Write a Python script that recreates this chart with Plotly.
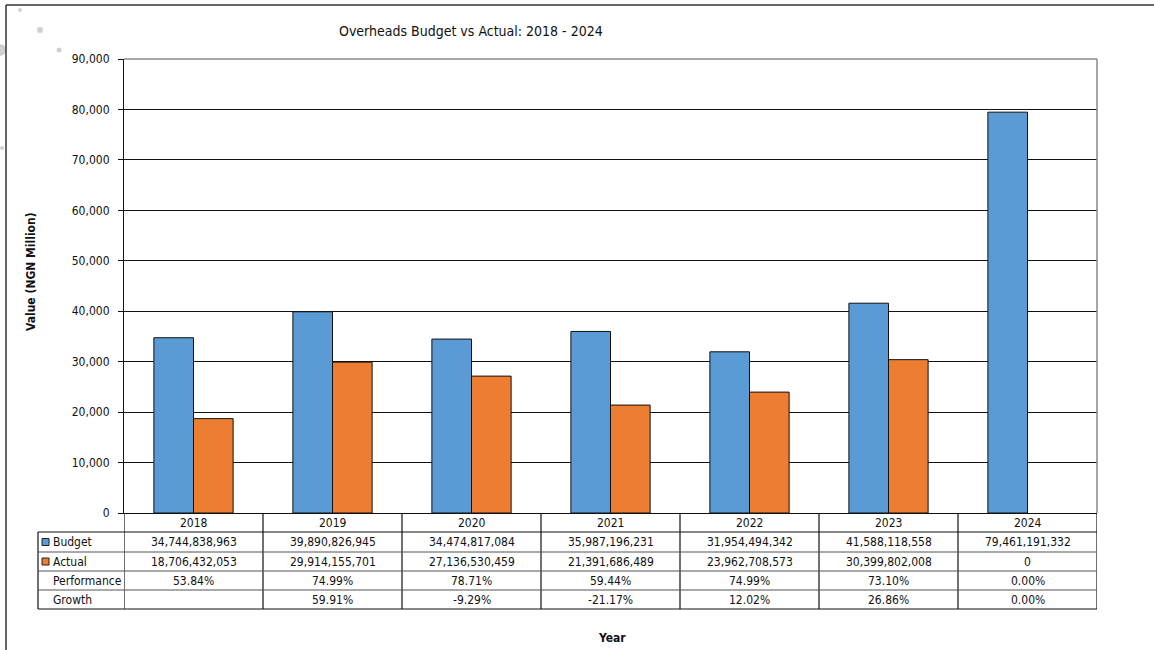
import plotly.graph_objects as go

years = ["2018", "2019", "2020", "2021", "2022", "2023", "2024"]
budget_ngn = [34744838963, 39890826945, 34474817084, 35987196231, 31954494342, 41588118558, 79461191332]
actual_ngn = [18706432053, 29914155701, 27136530459, 21391686489, 23962708573, 30399802008, 0]
performance = ["53.84%", "74.99%", "78.71%", "59.44%", "74.99%", "73.10%", "0.00%"]
growth = ["", "59.91%", "-9.29%", "-21.17%", "12.02%", "26.86%", "0.00%"]
y_ticks = [0, 10000, 20000, 30000, 40000, 50000, 60000, 70000, 80000, 90000]

BLUE = "#5B9BD5"
ORANGE = "#ED7D31"
FONT = "Tahoma, 'DejaVu Sans Condensed', 'Liberation Sans', sans-serif"

W, H = 1154, 650
L, R, T, B = 124, 1097, 59, 513  # plot area in pixels


def px(x):
    return (x - L) / (R - L)


def py(y):
    return (B - y) / (B - T)


budget_m = [v / 1e6 for v in budget_ngn]
actual_m = [v / 1e6 for v in actual_ngn]

fig = go.Figure()
fig.add_trace(go.Bar(x=years, y=budget_m, name="Budget",
                     marker=dict(color=BLUE, line=dict(color="#111", width=[1 if v > 0 else 0 for v in budget_m]))))
fig.add_trace(go.Bar(x=years, y=actual_m, name="Actual",
                     marker=dict(color=ORANGE, line=dict(color="#111", width=[1 if v > 0 else 0 for v in actual_m]))))

shapes = []
ann = []

# outer frame lines (top and left)
shapes.append(dict(type="line", xref="paper", yref="paper", x0=px(6), x1=px(1154), y0=py(5), y1=py(5),
                   line=dict(color="#333", width=1.5), layer="above"))
shapes.append(dict(type="line", xref="paper", yref="paper", x0=px(6), x1=px(6), y0=py(5), y1=py(650),
                   line=dict(color="#333", width=1.5), layer="above"))

# faint decorative dots
for cx, cy, r in [(20, 10, 2), (40, 30, 3), (0, 50, 6), (59, 50, 2.5), (2, 148, 2)]:
    shapes.append(dict(type="circle", xref="paper", yref="paper", x0=px(cx - r), x1=px(cx + r),
                       y0=py(cy - r), y1=py(cy + r), fillcolor="#d0d0d0", line=dict(width=0), layer="below"))

# plot area top/right border
shapes.append(dict(type="line", xref="paper", yref="paper", x0=0, x1=1, y0=1, y1=1,
                   line=dict(color="#888", width=1.5), layer="above"))
shapes.append(dict(type="line", xref="paper", yref="paper", x0=1, x1=1, y0=0, y1=1,
                   line=dict(color="#888", width=1.5), layer="above"))

# table geometry
row_edges = [513, 532, 552, 571, 590, 609]
label_left = 38

n = len(years)
for i in range(n + 1):
    shapes.append(dict(type="line", xref="x", yref="paper", x0=i - 0.5, x1=i - 0.5,
                       y0=py(row_edges[0]), y1=py(row_edges[-1]), line=dict(color="#111", width=1.2)))
shapes.append(dict(type="line", xref="paper", yref="paper", x0=px(label_left), x1=px(label_left),
                   y0=py(row_edges[1]), y1=py(row_edges[-1]), line=dict(color="#111", width=1.2)))
for k, ye in enumerate(row_edges[1:]):
    col = "#111" if k in (0, len(row_edges) - 2) else "#555"
    shapes.append(dict(type="line", xref="paper", yref="paper", x0=px(label_left), x1=1,
                       y0=py(ye), y1=py(ye), line=dict(color=col, width=1.2)))

cell_font = dict(family=FONT, size=12, color="#111")


def row_center(r):
    return py((row_edges[r] + row_edges[r + 1]) / 2)


rows = [
    ("", years),
    ("Budget", [f"{v:,}" for v in budget_ngn]),
    ("Actual", [f"{v:,}" for v in actual_ngn]),
    ("Performance", performance),
    ("Growth", growth),
]
for r, (label, vals) in enumerate(rows):
    yc = row_center(r)
    for i, v in enumerate(vals):
        if v:
            ann.append(dict(x=i, y=yc, xref="x", yref="paper", text=v, showarrow=False,
                            font=cell_font, xanchor="center", yanchor="middle"))
    if label:
        ann.append(dict(x=px(51), y=yc, xref="paper", yref="paper", text=label, showarrow=False,
                        font=cell_font, xanchor="left", yanchor="middle"))

for r, colr in [(1, BLUE), (2, ORANGE)]:
    yc = (row_edges[r] + row_edges[r + 1]) / 2
    shapes.append(dict(type="rect", xref="paper", yref="paper", x0=px(42), x1=px(49),
                       y0=py(yc - 3.5), y1=py(yc + 3.5), fillcolor=colr, line=dict(color="#222", width=1)))

ann.append(dict(x=px(471), y=py(31), xref="paper", yref="paper", text="Overheads Budget vs Actual: 2018 - 2024",
                showarrow=False, font=dict(family=FONT, size=14, color="#111"), xanchor="center", yanchor="middle"))
ann.append(dict(x=px(31), y=py(272), xref="paper", yref="paper", text="<b>Value (NGN Million)</b>",
                showarrow=False, textangle=-90, font=dict(family=FONT, size=12, color="#111"),
                xanchor="center", yanchor="middle"))
ann.append(dict(x=px(612), y=py(638), xref="paper", yref="paper", text="<b>Year</b>",
                showarrow=False, font=dict(family=FONT, size=12, color="#111"), xanchor="center", yanchor="middle"))

fig.update_layout(
    width=W, height=H,
    margin=dict(l=L, r=W - R, t=T, b=H - B, pad=0),
    paper_bgcolor="white", plot_bgcolor="rgba(0,0,0,0)",
    barmode="group", bargap=0.43, bargroupgap=0,
    showlegend=False,
    shapes=shapes, annotations=ann,
    font=dict(family=FONT, size=12, color="#111"),
)
fig.update_xaxes(type="category", showticklabels=False, showgrid=False, showline=True, linecolor="#111",
                 linewidth=1.2, ticks="", range=[-0.5, n - 0.5], fixedrange=True)
fig.update_yaxes(range=[0, 90000], tickvals=y_ticks, tickformat=",", showgrid=True, gridcolor="#111",
                 gridwidth=1, showline=True, linecolor="#111", linewidth=1.2, ticks="outside", ticklen=5,
                 tickcolor="#111", tickfont=dict(family=FONT, size=12, color="#111"), zeroline=False,
                 ticklabelstandoff=6)

fig.write_html("out.html")
